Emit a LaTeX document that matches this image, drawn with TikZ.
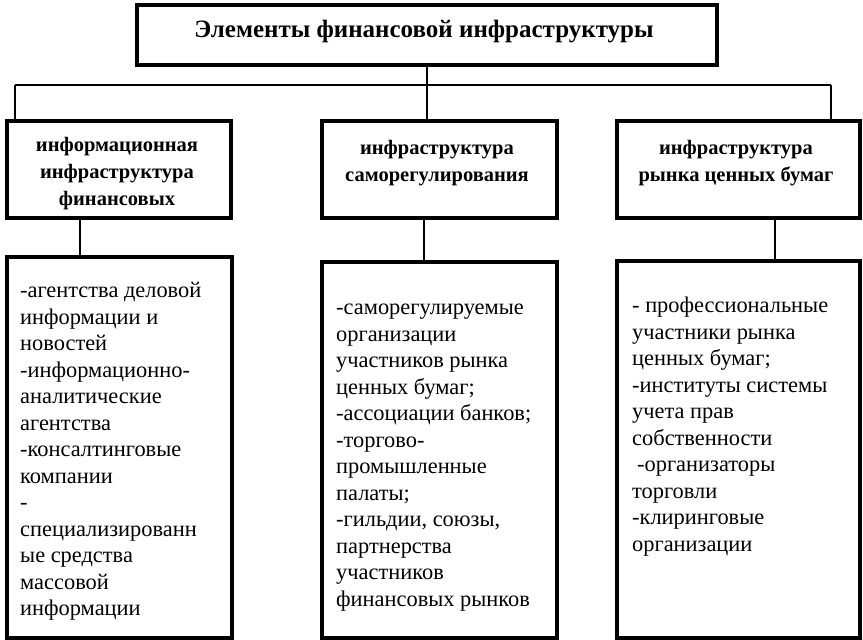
\documentclass[tikz,border=0pt]{standalone}
\usepackage{fontspec}
\setmainfont{Liberation Serif}
\begin{document}
\begin{tikzpicture}[x=1pt,y=-1pt,
  frame/.style={draw, line width=4pt, inner sep=0pt, anchor=north west},
  conn/.style={line width=1.3pt},
  titletext/.style={font=\fontsize{25}{28}\selectfont\bfseries, inner sep=0pt},
  headtext/.style={font=\fontsize{20.5}{27}\selectfont\bfseries, align=center, inner sep=0pt},
  bodytext/.style={font=\fontsize{22.4}{26.5}\selectfont, align=left, inner sep=0pt, anchor=north west}]
\useasboundingbox (0,0) rectangle (863,640);
% boxes
\node[frame, minimum width=580, minimum height=60] (title) at (135,3) {};
\node[frame, minimum width=224, minimum height=97] (h1) at (5,119) {};
\node[frame, minimum width=235, minimum height=97] (h2) at (320,119) {};
\node[frame, minimum width=243, minimum height=97] (h3) at (615,119) {};
\node[frame, minimum width=225, minimum height=381] (b1) at (5,255) {};
\node[frame, minimum width=235, minimum height=376] (b2) at (320,260) {};
\node[frame, minimum width=243, minimum height=377] (b3) at (615,259) {};
% texts
\node[titletext] (ttitle) at (424,32) {Элементы финансовой инфраструктуры};
\node[headtext] (th1) at (117,174) {информационная\\инфраструктура\\финансовых};
\node[headtext] (th2) at (437,163) {инфраструктура\\саморегулирования};
\node[headtext] (th3) at (736,163) {инфраструктура\\рынка ценных бумаг};
\node[bodytext] (tb1) at (20,279) {\strut-агентства деловой\\информации и\\новостей\\-информационно-\\аналитические\\агентства\\-консалтинговые\\компании\\-\\специализированн\\ые средства\\массовой\\информации};
\node[bodytext] (tb2) at (336,296) {\strut-саморегулируемые\\организации\\участников рынка\\ценных бумаг;\\-ассоциации банков;\\-торгово-\\промышленные\\палаты;\\-гильдии, союзы,\\партнерства\\участников\\финансовых рынков};
\node[bodytext] (tb3) at (632,294) {\strut- профессиональные\\участники рынка\\ценных бумаг;\\-институты системы\\учета прав\\собственности\\\hspace{5pt}-организаторы\\торговли\\-клиринговые\\организации};
% connectors
\coordinate (hl) at (15,85);
\coordinate (hr) at (831,85);
\coordinate (c1) at (80,0);
\coordinate (c2) at (424,0);
\coordinate (c3) at (775,0);
\draw[conn] (title.south) -- (title.south |- hl);
\draw[conn] (hl) -- (hr);
\draw[conn] (hl) -- (hl |- h1.north);
\draw[conn] (title.south |- hl) -- (title.south |- h2.north);
\draw[conn] (hr) -- (hr |- h3.north);
\draw[conn] (c1 |- h1.south) -- (c1 |- b1.north);
\draw[conn] (c2 |- h2.south) -- (c2 |- b2.north);
\draw[conn] (c3 |- h3.south) -- (c3 |- b3.north);
\end{tikzpicture}
\end{document}
